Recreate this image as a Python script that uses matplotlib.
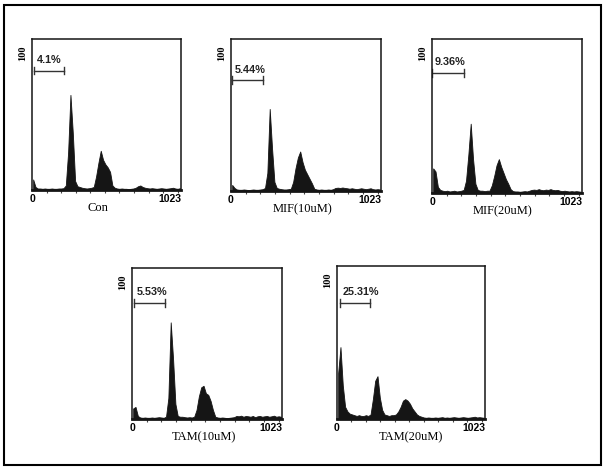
import numpy as np
import matplotlib
matplotlib.use("Agg")
import matplotlib.pyplot as plt
from matplotlib.patches import Rectangle

# DNA content histograms, 64 bins of 16 channels (0-1023), % of max
con = [7, 2, 1, 1, 0.8, 1, 0.8, 0.8, 1, 0.8, 0.8, 1, 1, 1.2,
       3, 25, 63, 38, 6,
       2.5, 2, 1.5, 1.2, 1, 1.2, 1.5,
       2, 9, 18, 26, 20, 17, 15, 12, 3,
       1.5, 1, 0.8, 1, 0.8, 0.8, 0.6, 0.8, 1, 1.5, 2.5, 3, 2, 1.5, 1.2,
       1, 1.2, 1, 0.8, 1, 1.2, 1, 0.8, 1, 1.2, 1.5, 1, 0.8, 1.2]
mif10 = [4, 2, 1, 0.8, 0.8, 1, 0.8, 0.6, 0.8, 1, 0.8, 0.8, 1, 1.2,
         2, 12, 54, 28, 6, 2,
         1.5, 1.2, 1, 1, 1.2,
         1.5, 6, 15, 22, 26, 19, 14, 11, 8, 5, 1.5,
         1, 0.8, 1, 0.8, 0.8, 1, 0.8, 1.2, 2, 2.2, 2, 2.3, 2, 1.8,
         1.5, 1.8, 1.5, 1.2, 1.5, 1.8, 1.5, 1.2, 1.5, 1.8, 1.2, 1, 1.2, 1]
mif20 = [16, 14, 4, 2, 1.5, 1.2, 1.5, 1, 1.2, 1.5, 1, 1.2, 1.5, 2,
         8, 25, 45, 22, 6, 2,
         1.5, 1.5, 1.2, 1.5,
         1.5, 5, 11, 18, 22, 17, 13, 9, 6, 2.5, 1.2,
         1, 1, 0.8, 1, 1.2, 1, 1.5, 2, 2.2, 2, 2.5, 2, 1.8, 2.2, 2,
         2.5, 2, 1.8, 2, 1.5, 1.2, 1.5, 1.2, 1, 1.2, 1, 1.2, 1, 0.8]
tam10 = [7, 8, 2, 1, 0.8, 1, 0.8, 0.8, 1, 0.8, 1, 1.2, 1, 0.8,
         1.5, 14, 64, 40, 10, 2,
         1.5, 1.5, 1.2, 1, 1.2, 1,
         1.5, 6, 15, 21, 22, 17, 16, 12, 6, 1.5,
         1, 0.8, 1, 0.8, 0.6, 0.8, 1, 1.2, 2, 1.8, 2.2, 1.5, 2, 1.8,
         1.5, 2, 1.2, 1.8, 2, 1.5, 1.8, 2, 1.5, 1.8, 2.2, 1.5, 1.8, 1.5]
tam20 = [30, 47, 22, 8, 5, 3.5, 3, 2.5, 2, 2.5, 2, 2, 2.5, 2,
         3, 13, 25, 28, 14, 6, 3,
         2.5, 2, 2.5, 2.5,
         3, 5, 8, 12, 13, 12, 10, 7, 5, 3, 2, 1.5,
         1, 0.8, 1, 0.8, 0.8, 1, 0.8, 1, 1.2, 0.8, 1, 0.8, 1, 1.2,
         1, 0.8, 1, 1.2, 1, 0.8, 1, 1.2, 1.5, 1, 1.2, 1, 0.8]

names = ["Con", "MIF(10uM)", "MIF(20uM)", "TAM(10uM)", "TAM(20uM)"]
series = [con, mif10, mif20, tam10, tam20]
gate_pct = ["4.1%", "5.44%", "9.36%", "5.53%", "25.31%"]
gate_lo = [14, 7, 0, 14, 18]
gate_hi = [220, 218, 215, 222, 230]
gate_y = [79, 73, 78, 77, 76]

# axes rectangles in figure pixels (left, top, right, bottom)
boxes = [(32, 39, 181, 190), (231, 39, 381, 191), (432, 39, 582, 193),
         (132, 268, 282, 419), (337, 266, 485, 419)]
name_x = [0.44, 0.48, 0.47, 0.48, 0.5]

W, H = 603, 467
fig = plt.figure(figsize=(W / 100, H / 100), dpi=100)
fig.patch.set_facecolor("white")

chan = np.arange(64) * 16 + 8
ink = "#151515"

for i in range(5):
    l, t, r, b = boxes[i]
    ax = fig.add_axes([l / W, 1 - b / H, (r - l) / W, (b - t) / H])
    ax.fill_between(chan, 0, series[i], color=ink, linewidth=0.6, edgecolor=ink)
    ax.set_xlim(0, 1023)
    ax.set_ylim(0, 100)
    for s in ax.spines.values():
        s.set_linewidth(1.1)
        s.set_color(ink)
    ax.spines["bottom"].set_linewidth(2.0)
    ax.set_xticks(np.arange(100, 1001, 100))
    ax.set_xticklabels([])
    ax.tick_params(axis="x", direction="out", length=2, width=0.8, color="#444444")
    ax.set_yticks([])

    # gate marker
    gy = gate_y[i]
    ax.plot([gate_lo[i], gate_hi[i]], [gy, gy], color="#333333", lw=1.0)
    ax.plot([gate_lo[i], gate_lo[i]], [gy - 2.5, gy + 2.5], color="#333333", lw=1.0)
    ax.plot([gate_hi[i], gate_hi[i]], [gy - 2.5, gy + 2.5], color="#333333", lw=1.0)
    ax.text(gate_lo[i] + 20, gy + 3.5, gate_pct[i], fontsize=7.8, fontweight="bold",
            family="Liberation Sans", color="#222222", ha="left", va="bottom")

    ax.text(-0.06, 0.96, "100", transform=ax.transAxes, rotation=90,
            fontsize=7.5, fontweight="bold", family="Liberation Serif",
            ha="center", va="top")
    ax.text(0.0, -0.025, "0", transform=ax.transAxes, fontsize=7.5,
            fontweight="bold", family="Liberation Sans", ha="center", va="top")
    ax.text(1.0, -0.025, "1023", transform=ax.transAxes, fontsize=7.5,
            fontweight="bold", family="Liberation Sans", ha="right", va="top")
    ax.text(name_x[i], -0.08, names[i], transform=ax.transAxes, fontsize=9,
            family="Liberation Serif", ha="center", va="top")

fig.patches.append(Rectangle((4 / W, 1 - 465 / H), 597 / W, 460 / H,
                             transform=fig.transFigure, fill=False,
                             edgecolor="black", linewidth=1.5))

fig.savefig("out.png", dpi=100)
